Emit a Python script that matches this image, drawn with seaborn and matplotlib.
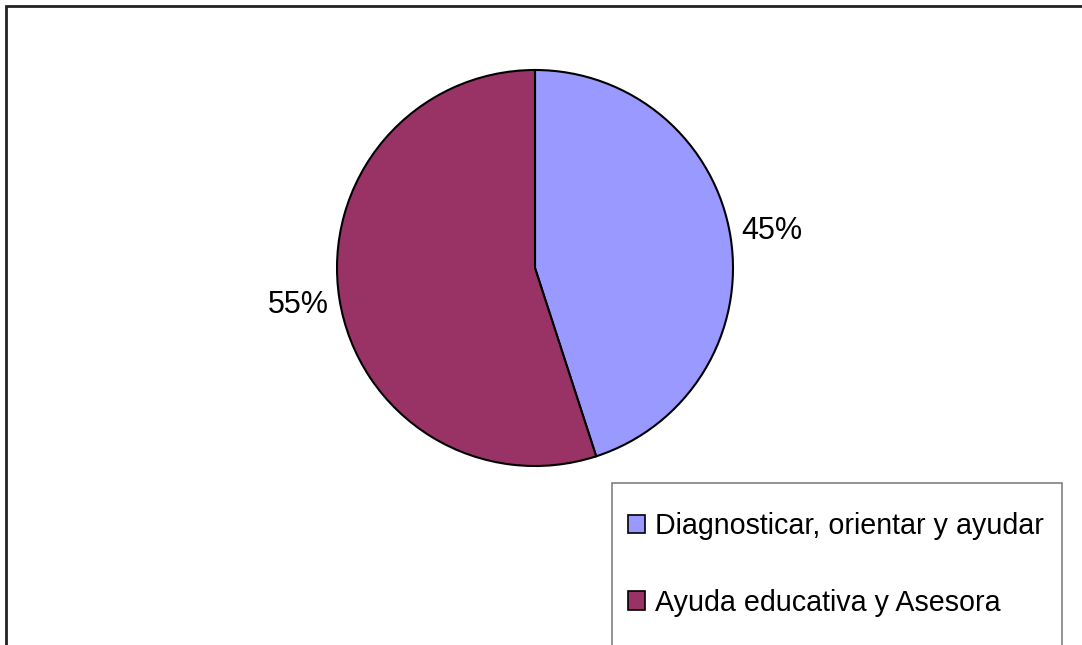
import matplotlib
matplotlib.use("Agg")
import matplotlib.pyplot as plt
from matplotlib.patches import Rectangle
import seaborn as sns

labels = ["Diagnosticar, orientar y ayudar", "Ayuda educativa y Asesora"]
values = [45, 55]
colors = ["#9999FF", "#993366"]

sns.set_theme(style="white")
plt.rcParams["font.family"] = ["Liberation Sans", "DejaVu Sans"]
plt.rcParams["text.color"] = "black"

W, H = 1082, 645
fig = plt.figure(figsize=(W / 100, H / 100), dpi=100)
fig.patch.set_facecolor("white")


def fig_box(x0, y0, x1, y1):
    # pixel box (top-left origin) -> figure fraction [left, bottom, width, height]
    return [x0 / W, 1 - y1 / H, (x1 - x0) / W, (y1 - y0) / H]


# pie axis
cx, cy, r = 535, 268, 198
ax = fig.add_axes(fig_box(cx - r, cy - r, cx + r, cy + r))
wedges, texts, autotexts = ax.pie(
    values, colors=colors, startangle=90, counterclock=False,
    autopct="%1.0f%%", pctdistance=1.21,
    wedgeprops=dict(edgecolor="black", linewidth=1.5),
    textprops=dict(fontsize=22, color="black"),
)
ax.set_aspect("equal")
ax.set_xlim(-1, 1)
ax.set_ylim(-1, 1)
ax.axis("off")

# outer frame (only top and left edges visible)
fig.patches.append(Rectangle((6 / W, 1 - 700 / H), 1200 / W, 694 / H,
                             transform=fig.transFigure, fill=False,
                             edgecolor="#222222", linewidth=2, clip_on=False))

# legend frame
fig.patches.append(Rectangle((612 / W, 1 - 700 / H), 450 / W, (700 - 483) / H,
                             transform=fig.transFigure, fill=False,
                             edgecolor="#808080", linewidth=1.2, clip_on=False))

leg = fig.legend(wedges, labels, loc="upper left",
                 bbox_to_anchor=(628 / W, 1 - 512 / H), frameon=False,
                 fontsize=20.6, handlelength=0.6, handleheight=0.6,
                 handletextpad=0.35, labelspacing=1.7, borderpad=0,
                 borderaxespad=0)
for h in leg.legend_handles:
    h.set_edgecolor("black")
    h.set_linewidth(1.2)

fig.savefig("out.png", dpi=100, facecolor="white")
